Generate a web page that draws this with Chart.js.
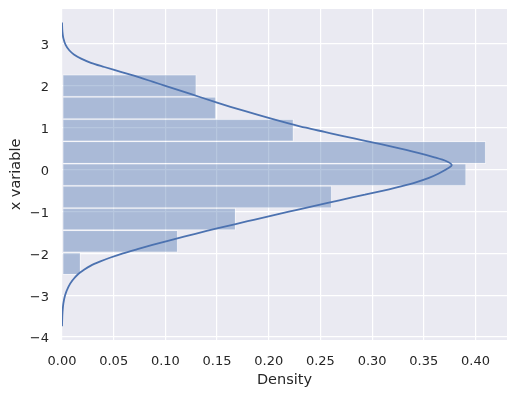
<!DOCTYPE html>
<html>
<head>
<meta charset="utf-8">
<script src="https://cdn.jsdelivr.net/npm/chart.js@4/dist/chart.umd.min.js"></script>
<style>
  html, body { margin: 0; padding: 0; background: #fff; }
</style>
</head>
<body>
<canvas id="chart" width="516" height="396"></canvas>
<script>
// histogram bins (edges, top to bottom) and density per bin
const binEdges = [2.267, 1.736, 1.205, 0.674, 0.143, -0.388, -0.919, -1.450, -1.981, -2.512];
const binDensity = [0.130, 0.149, 0.224, 0.410, 0.391, 0.261, 0.168, 0.112, 0.018];

// kde curve (top to bottom)
const kdeY = [3.51, 3.30, 3.14, 2.98, 2.85, 2.75, 2.65, 2.55, 2.45, 2.34, 2.20, 2.10, 2.00, 1.80, 1.60, 1.50, 1.40, 1.30, 1.20, 1.10, 1.00,
  0.90, 0.80, 0.70, 0.60, 0.50, 0.40, 0.30, 0.20, 0.11, 0.00, -0.10, -0.20, -0.30, -0.40, -0.50, -0.60, -0.70, -0.80, -0.90, -1.00,
  -1.10, -1.20, -1.30, -1.40, -1.50, -1.60, -1.70, -1.80, -1.90, -2.00, -2.10, -2.20, -2.30, -2.40, -2.50, -2.65, -2.80, -3.00, -3.20, -3.40, -3.74];
const kdeDensity = [0.000, 0.0004, 0.0013, 0.0035, 0.0070, 0.0115, 0.0185, 0.028, 0.041, 0.056, 0.075, 0.0875, 0.100, 0.125, 0.150, 0.163, 0.1765, 0.1905, 0.205, 0.220, 0.236,
  0.254, 0.272, 0.291, 0.3095, 0.3275, 0.3445, 0.3595, 0.372, 0.377, 0.3715, 0.364, 0.355, 0.343, 0.328, 0.311, 0.293, 0.2745, 0.256, 0.238, 0.2205,
  0.203, 0.1855, 0.168, 0.151, 0.1345, 0.118, 0.1025, 0.0875, 0.073, 0.059, 0.047, 0.0365, 0.0275, 0.021, 0.0155, 0.0100, 0.0062, 0.0030, 0.0013, 0.0005, 0.000];

const xTicks = [0, 0.05, 0.10, 0.15, 0.20, 0.25, 0.30, 0.35, 0.40];
const yTicks = [-4, -3, -2, -1, 0, 1, 2, 3];

const barData = binDensity.map((d, i) => ({ x: d, y: (binEdges[i] + binEdges[i + 1]) / 2 }));
const kdeData = kdeY.map((y, i) => ({ x: kdeDensity[i], y: y }));

const txt = "#262626";
const fontFam = "'DejaVu Sans', sans-serif";

const plotBg = {
  id: "plotBg",
  beforeDraw(chart) {
    const a = chart.chartArea, c = chart.ctx;
    c.save();
    c.fillStyle = "#EAEAF2";
    c.fillRect(a.left, a.top, a.right - a.left, a.bottom - a.top);
    c.restore();
  }
};

new Chart(document.getElementById("chart"), {
  type: "bar",
  data: {
    datasets: [
      {
        type: "line",
        data: kdeData,
        borderColor: "#4C72B0",
        borderWidth: 1.8,
        pointRadius: 0,
        cubicInterpolationMode: "monotone",
        fill: false,
        order: 0
      },
      {
        type: "bar",
        data: barData,
        backgroundColor: "rgba(76,114,176,0.4)",
        borderColor: "rgba(255,255,255,0.45)",
        borderWidth: 1,
        borderSkipped: false,
        barPercentage: 1,
        categoryPercentage: 1,
        order: 1
      }
    ]
  },
  plugins: [plotBg],
  options: {
    indexAxis: "y",
    responsive: false,
    animation: false,
    devicePixelRatio: 1,
    layout: { padding: { left: 0, top: 9, right: 9, bottom: 0 } },
    plugins: { legend: { display: false }, tooltip: { enabled: false } },
    scales: {
      x: {
        type: "linear",
        min: 0,
        max: 0.4305,
        border: { display: false },
        grid: { color: "#ffffff", lineWidth: 1.2, drawTicks: false },
        afterBuildTicks: s => { s.ticks = xTicks.map(v => ({ value: v })); },
        afterFit: s => { s.height = 56; s.paddingLeft = 0; s.paddingRight = 0; },
        ticks: {
          padding: 14,
          color: txt,
          font: { family: fontFam, size: 13 },
          maxRotation: 0,
          callback: v => Number(v).toFixed(2)
        },
        title: {
          display: true,
          text: "Density",
          color: txt,
          font: { family: fontFam, size: 14.5 },
          padding: { top: 0, bottom: 7 }
        }
      },
      y: {
        type: "linear",
        min: -4.07,
        max: 3.835,
        offset: false,
        border: { display: false },
        grid: { color: "#ffffff", lineWidth: 1.2, drawTicks: false, offset: false },
        afterBuildTicks: s => { s.ticks = yTicks.map(v => ({ value: v })); },
        afterFit: s => { s.width = 62; s.paddingTop = 0; s.paddingBottom = 0; },
        ticks: {
          padding: 13,
          labelOffset: 2,
          color: txt,
          font: { family: fontFam, size: 13 },
          callback: v => (v < 0 ? "\u2212" + Math.abs(v) : String(v))
        },
        title: {
          display: true,
          text: "x variable",
          color: txt,
          font: { family: fontFam, size: 14.5 },
          padding: { top: 8, bottom: 0 }
        }
      }
    }
  }
});
</script>
</body>
</html>
